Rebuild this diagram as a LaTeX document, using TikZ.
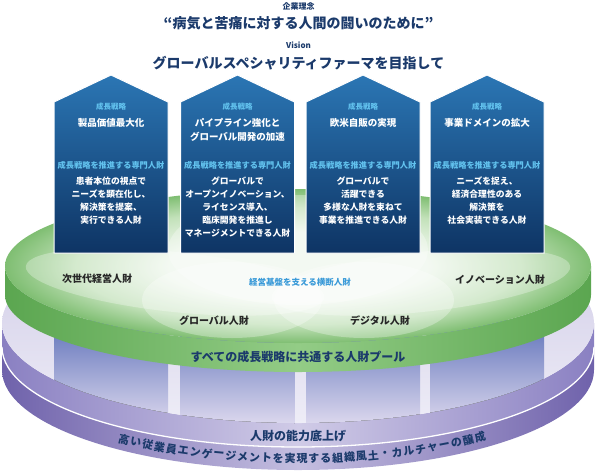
\documentclass[tikz,border=0pt]{standalone}
\usepackage{fontspec}
\setmainfont{Noto Sans CJK JP}
\usepackage{tikz}
\usetikzlibrary{positioning,calc}

\definecolor{navy}{HTML}{1B3A6B}
\definecolor{houseTop}{HTML}{2B76B4}
\definecolor{houseBot}{HTML}{0E3464}
\definecolor{skyText}{HTML}{62C2EE}
\definecolor{crossBlue}{HTML}{3A9AD8}
\definecolor{gTopA}{HTML}{EFF7ED}
\definecolor{gTopB}{HTML}{C2E1B9}
\definecolor{gTopC}{HTML}{7FBE72}
\definecolor{gBandE}{HTML}{5BA650}
\definecolor{gBandM}{HTML}{93CC86}
\definecolor{pDark}{HTML}{6F62AB}
\definecolor{pMid}{HTML}{8A80C2}
\definecolor{pLight}{HTML}{C4BEE0}
\definecolor{pLighter}{HTML}{D0CBE7}
\definecolor{pFaceA}{HTML}{CDC8E5}
\definecolor{pFaceB}{HTML}{EEEDF7}
\definecolor{pillarTop}{HTML}{5F72BA}
\definecolor{pillarBot}{HTML}{DDD9EE}

\pgfdeclareradialshading{greentop}{\pgfpoint{0bp}{0bp}}{color(0bp)=(gTopA); color(11bp)=(gTopA); color(19bp)=(gTopB); color(25bp)=(gTopC); color(50bp)=(gTopC)}

\begin{document}
\begin{tikzpicture}[x=1pt, y=-1pt,
    house/.style={top color=houseTop, bottom color=houseBot, draw=white, line width=1pt},
    ttl/.style={text=navy, font=\bfseries\fontsize{14}{16}\selectfont},
    smallttl/.style={text=navy, font=\bfseries\fontsize{8}{9}\selectfont},
    tag/.style={text=skyText, font=\bfseries\fontsize{7.5}{8}\selectfont, inner sep=0},
    subtag/.style={text=skyText, font=\bfseries\fontsize{8.2}{9}\selectfont, inner sep=0},
    head/.style={text=white, font=\bfseries\fontsize{9.5}{14}\selectfont, align=center, anchor=north, inner sep=0},
    body/.style={text=white, font=\bfseries\fontsize{8.8}{13}\selectfont, align=center, anchor=north, inner sep=0},
    ringlbl/.style={text=black!85, font=\bfseries\fontsize{10}{12}\selectfont},
    crosslbl/.style={text=crossBlue, font=\bfseries\fontsize{8.5}{10}\selectfont},
    lens/.style={fill=white, fill opacity=0.3},
    pool/.style={text=navy, font=\bfseries\fontsize{12}{14}\selectfont},
    arcword/.style={text=navy, font=\bfseries\fontsize{11}{12}\selectfont, inner sep=0}]
    \useasboundingbox (0,0) rectangle (597,472);

    \node[smallttl] (motto-cap) at (298.5,6) {企業理念};
    \node[ttl] (motto) at (298.5,23) {“病気と苦痛に対する人間の闘いのために”};
    \node[smallttl] (vision-cap) at (298.5,45) {Vision};
    \node[ttl] (vision) at (298.5,63) {グローバルスペシャリティファーマを目指して};

    % base cylinder
    \path[left color=pDark, right color=pDark, middle color=pLight] (2,347) arc[start angle=180, end angle=360, x radius=296pt, y radius=100pt] -- (594,370) arc[start angle=0, end angle=-180, x radius=296pt, y radius=100pt] -- cycle;
    \path[left color=pMid, right color=pMid, middle color=pLighter] (2,323) arc[start angle=180, end angle=360, x radius=296pt, y radius=100pt] -- (594,347) arc[start angle=0, end angle=-180, x radius=296pt, y radius=100pt] -- cycle;
    \draw[white, line width=1.3pt] (2,347) arc[start angle=180, end angle=360, x radius=296pt, y radius=100pt];
    \path[top color=pFaceA, bottom color=pFaceB] (298,323) ellipse [x radius=296pt, y radius=100pt];
    \begin{scope}
        \clip (298,323) ellipse [x radius=296pt, y radius=100pt];
        \foreach \cx in {111,237.5,363,487}
            \fill[top color=pillarTop, bottom color=pillarBot] (\cx-57,320) rectangle (\cx+57,425);
    \end{scope}

    % talent pool disk
    \path[left color=gBandE, right color=gBandE, middle color=gBandM] (5,266) arc[start angle=180, end angle=360, x radius=293pt, y radius=77pt] -- (591,295) arc[start angle=0, end angle=-180, x radius=293pt, y radius=77pt] -- cycle;
    \path[shading=greentop] (298,266) ellipse [x radius=293pt, y radius=77pt];
    \begin{scope}
        \clip (298,266) ellipse [x radius=293pt, y radius=77pt];
        \fill[lens, rotate around={-6:(175,282)}] (175,282) ellipse [x radius=150pt, y radius=30pt];
        \fill[lens, rotate around={6:(421,282)}] (421,282) ellipse [x radius=150pt, y radius=30pt];
        \fill[lens] (232,300) ellipse [x radius=90pt, y radius=38pt];
        \fill[lens] (364,300) ellipse [x radius=90pt, y radius=38pt];
        \fill[lens] (298,250) ellipse [x radius=130pt, y radius=55pt];
    \end{scope}

    % strategies
    \foreach \cx/\nm in {111/h1, 237.5/h2, 363/h3, 487/h4} {
        \path[house] (\cx-57,253) -- (\cx-57,102) -- (\cx,75) -- (\cx+57,102) -- (\cx+57,253) -- cycle;
        \node[tag] (\nm-tag) at (\cx,107) {成長戦略};
        \node[subtag] (\nm-sub) at (\cx,165) {成長戦略を推進する専門人財};
    }
    \node[head] (h1-head) at (111,118) {製品価値最大化};
    \node[head] (h2-head) at (237.5,118) {パイプライン強化と\\グローバル開発の加速};
    \node[head] (h3-head) at (363,118) {欧米自販の実現};
    \node[head] (h4-head) at (487,118) {事業ドメインの拡大};
    \node[body] (h1-body) at (111,177) {患者本位の視点で\\ニーズを顕在化し、\\解決策を提案、\\実行できる人財};
    \node[body] (h2-body) at (237.5,177) {グローバルで\\オープンイノベーション、\\ライセンス導入、\\臨床開発を推進し\\マネージメントできる人財};
    \node[body] (h3-body) at (363,177) {グローバルで\\活躍できる\\多様な人財を束ねて\\事業を推進できる人財};
    \node[body] (h4-body) at (487,177) {ニーズを捉え、\\経済合理性のある\\解決策を\\社会実装できる人財};

    \node[ringlbl] (nextgen) at (97,279) {次世代経営人財};
    \node[ringlbl] (innov) at (500,280) {イノベーション人財};
    \node[crosslbl] (crossfn) at (300,282) {経営基盤を支える横断人財};
    \node[ringlbl] (global) at (214,321) {グローバル人財};
    \node[ringlbl] (digital) at (380,321) {デジタル人財};
    \node[pool] (pool) at (298,357) {すべての成長戦略に共通する人財プール};
    \node[pool] (uplift) at (298,436) {人財の能力底上げ};

    \foreach \ch [count=\i] in {高,い,従,業,員,エ,ン,ゲ,ー,ジ,メ,ン,ト,を,実,現,す,る,組,織,風,土,・,カ,ル,チ,ャ,ー,の,醸,成} {
        \pgfmathsetmacro{\px}{124+(\i-1)*11.87}
        \pgfmathsetmacro{\pu}{(\px-298)/296}
        \pgfmathsetmacro{\ps}{sqrt(1-\pu*\pu)}
        \pgfmathsetmacro{\py}{358.5+100*\ps}
        \pgfmathsetmacro{\pa}{atan(100/296*\pu/\ps)}
        \node[arcword, rotate=\pa] (arc\i) at (\px,\py) {\ch};
    }
\end{tikzpicture}
\end{document}
